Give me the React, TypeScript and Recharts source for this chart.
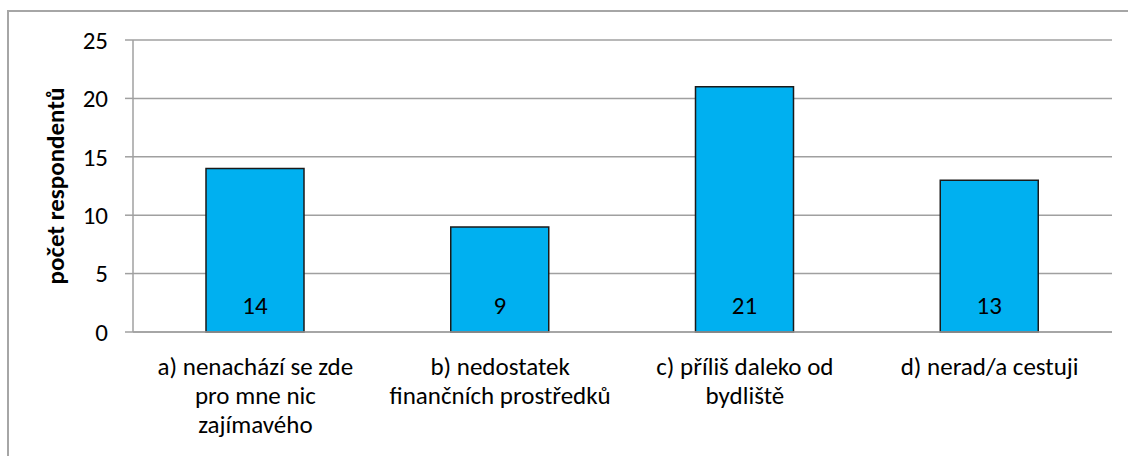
import React from "react";
import { BarChart, Bar, XAxis, YAxis, CartesianGrid, LabelList } from "recharts";

const categories = [
  "a) nenachází se zde\npro mne nic\nzajímavého",
  "b) nedostatek\nfinančních prostředků",
  "c) příliš daleko od\nbydliště",
  "d) nerad/a cestuji",
];
const values = [14, 9, 21, 13];
const yTicks = [0, 5, 10, 15, 20, 25];
const edgeTicks = [0, 1, 2, 3, 4];
const yLabel = "počet respondentů";

const data = categories.map((c, i) => ({ name: c, value: values[i] }));

const FONT = "Carlito, Lato, 'Open Sans', sans-serif";
const FS = 25;

const CatTick = (props: any) => {
  const { x, y, payload } = props;
  const lines = String(payload.value).split("\n");
  return (
    <g transform={`translate(${x},${y})`}>
      {lines.map((l: string, i: number) => (
        <text
          key={i}
          x={0}
          y={i * 29}
          dy={29}
          textAnchor="middle"
          fill="#000"
          fontSize={FS}
          fontFamily={FONT}
        >
          {l}
        </text>
      ))}
    </g>
  );
};

export default function App() {
  return (
    <div style={{ position: "absolute", left: 0, top: 0, width: 1128, height: 456, background: "#fff" }}>
      <div
        style={{
          position: "absolute",
          left: 7,
          top: 10,
          width: 1140,
          height: 470,
          border: "2px solid #a6a6a6",
          boxSizing: "border-box",
        }}
      />
      <BarChart
        width={1128}
        height={456}
        data={data}
        margin={{ top: 40, right: 16, bottom: 0, left: 0 }}
        barCategoryGap="30%"
        style={{ position: "absolute", left: 0, top: 0 }}
      >
        <CartesianGrid vertical={false} stroke="#a0a0a0" strokeWidth={1.5} />
        <XAxis
          dataKey="name"
          xAxisId="cat"
          tick={<CatTick />}
          tickLine={false}
          axisLine={{ stroke: "#a0a0a0", strokeWidth: 1.5 }}
          interval={0}
          height={124}
          tickMargin={8}
        />
        <XAxis
          xAxisId="edges"
          type="number"
          domain={[0, 4]}
          ticks={edgeTicks}
          tick={false}
          tickSize={8}
          tickLine={{ stroke: "#a0a0a0", strokeWidth: 1.5 }}
          axisLine={false}
          height={0}
          orientation="bottom"
          allowDataOverflow
        />
        <YAxis
          domain={[0, 25]}
          ticks={yTicks}
          width={133}
          tickSize={8}
          tickMargin={17}
          tickLine={{ stroke: "#a0a0a0", strokeWidth: 1.5 }}
          axisLine={{ stroke: "#a0a0a0", strokeWidth: 1.5 }}
          tick={{ fill: "#000", fontSize: FS, fontFamily: FONT }}
          label={{
            value: yLabel,
            angle: -90,
            position: "center",
            dx: -11,
            style: { fontWeight: "bold", fontSize: FS, fontFamily: FONT, fill: "#000", textAnchor: "middle" },
          }}
        />
        <Bar
          dataKey="value"
          xAxisId="cat"
          fill="#00B0F0"
          stroke="#1a1a1a"
          strokeWidth={1.5}
          barSize={98}
          isAnimationActive={false}
        >
          <LabelList
            dataKey="value"
            position="insideBottom"
            offset={18}
            fill="#000"
            fontSize={FS}
            fontFamily={FONT}
          />
        </Bar>
      </BarChart>
    </div>
  );
}
